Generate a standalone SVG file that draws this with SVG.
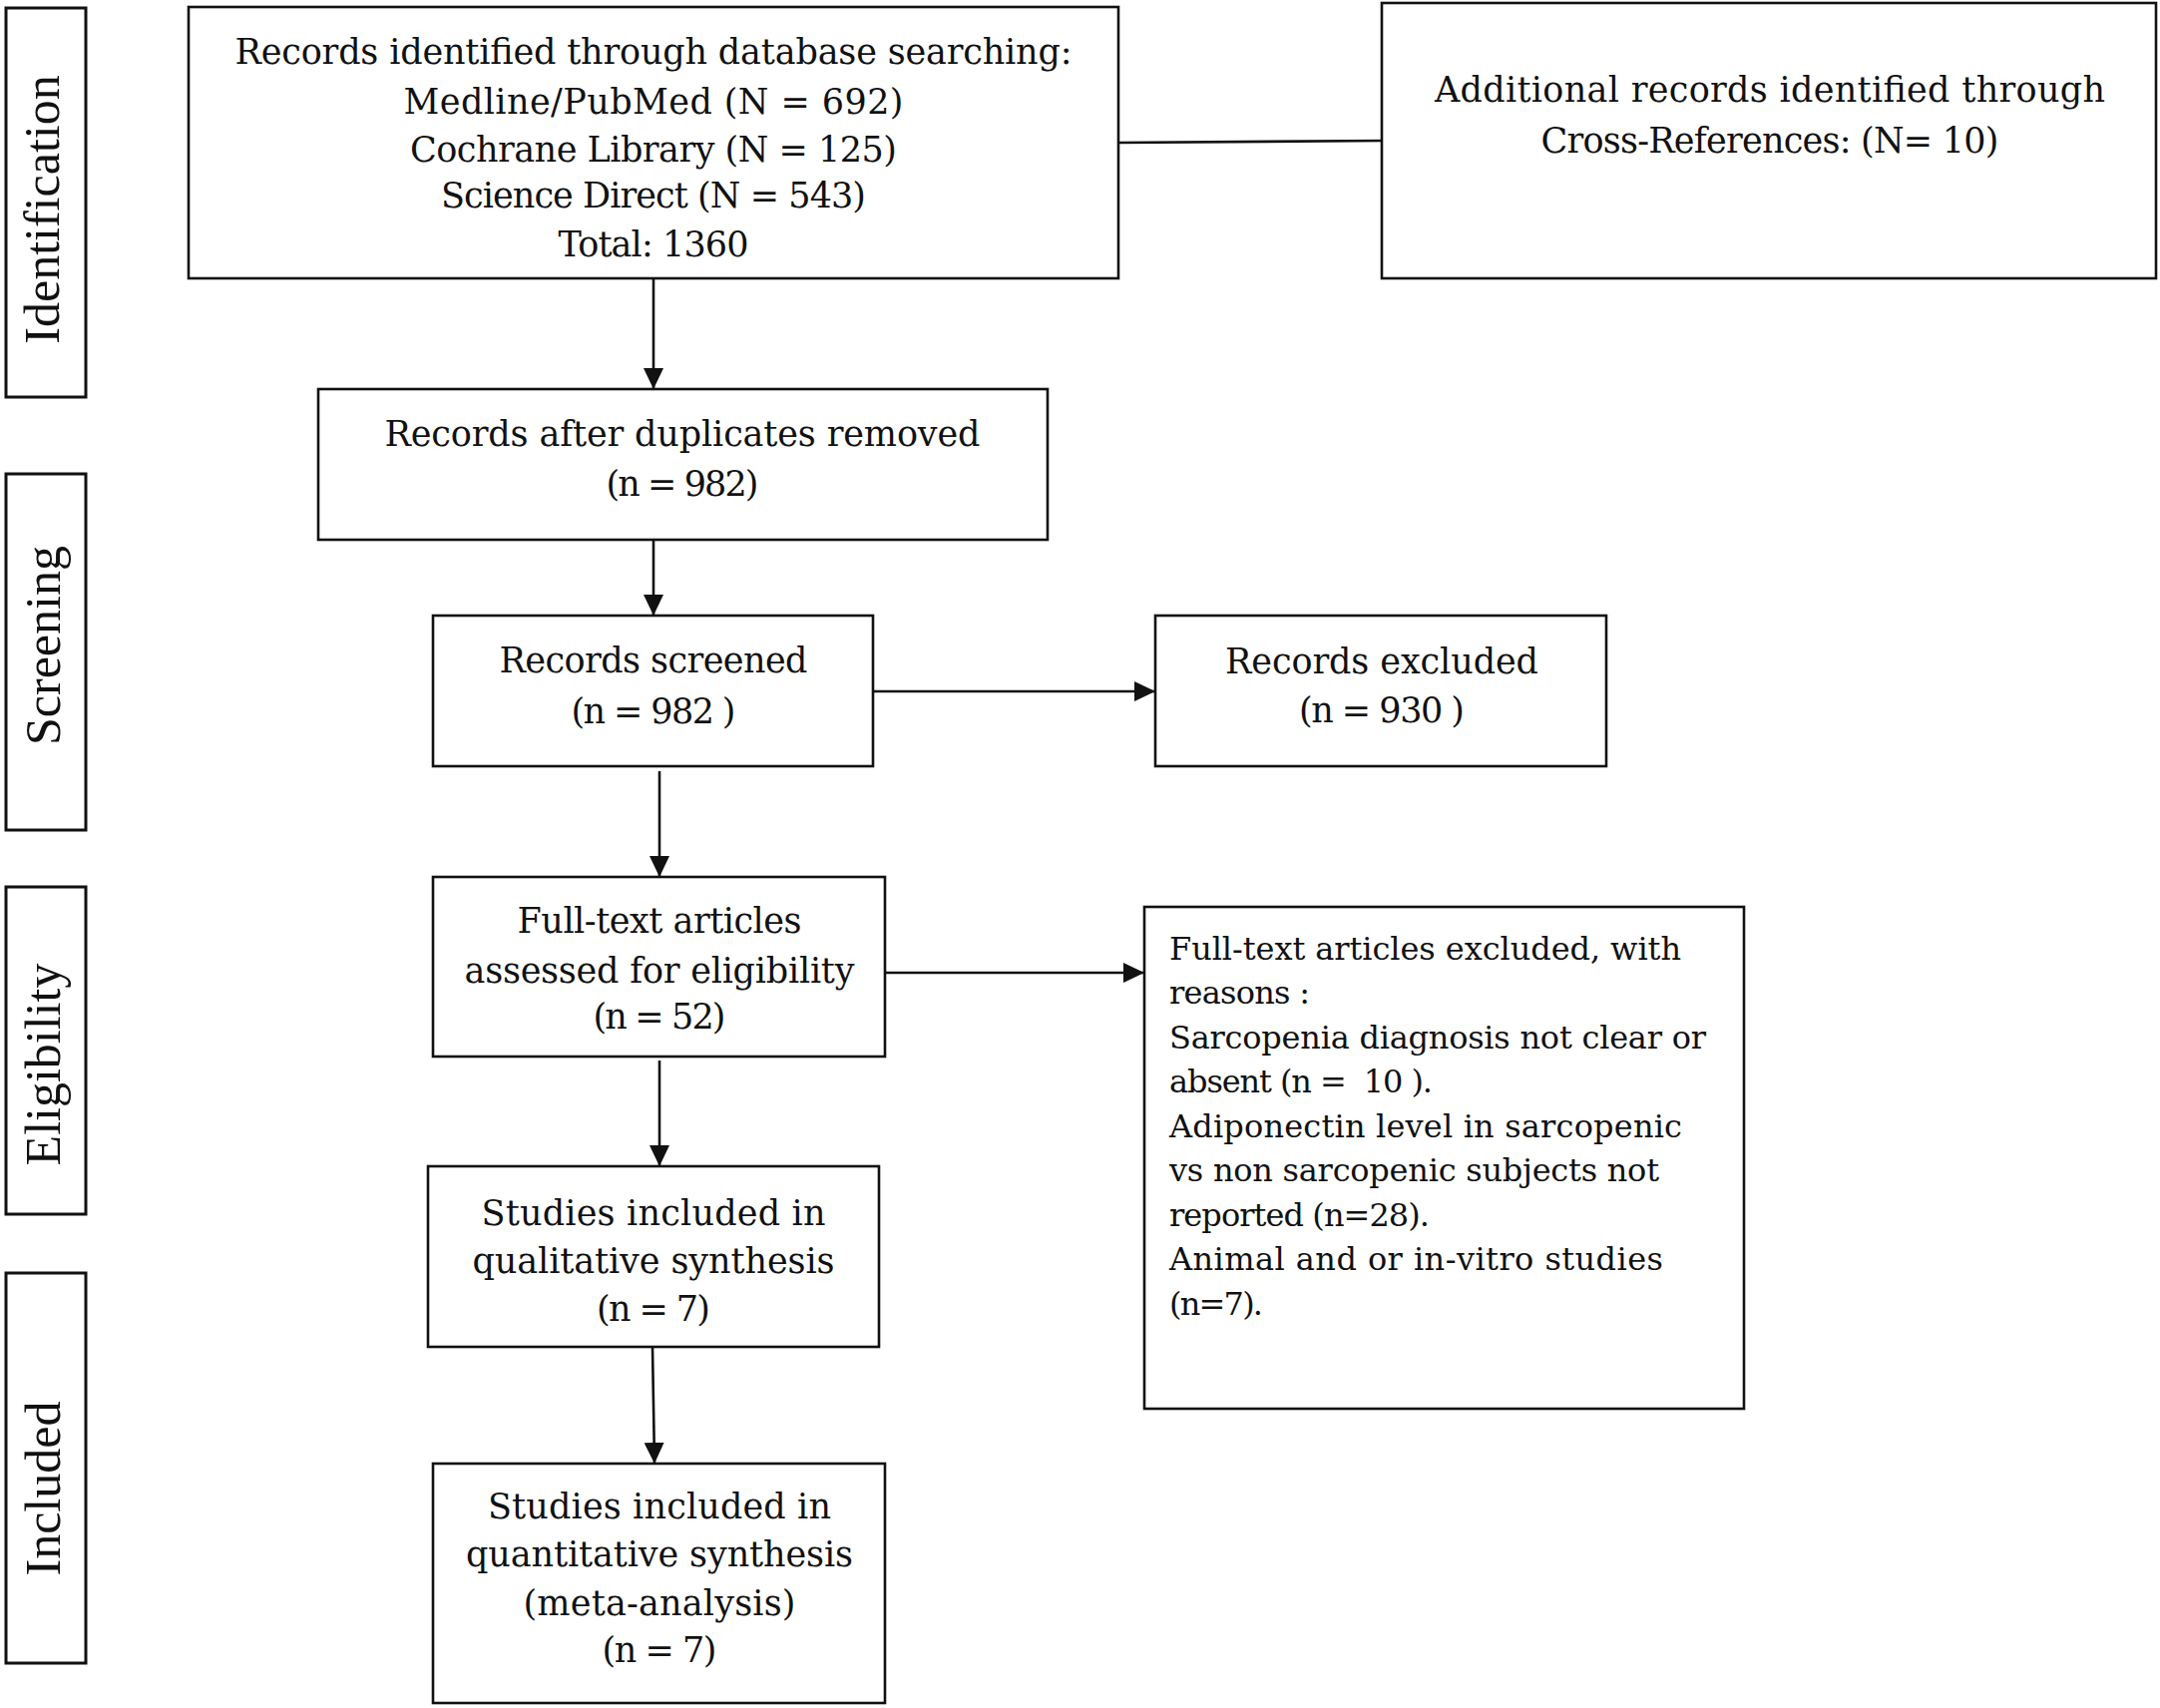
<svg xmlns="http://www.w3.org/2000/svg" width="2165" height="1712" viewBox="0 0 2165 1712">
<style>
.box{fill:#fff;stroke:#111;stroke-width:2.6}
.side{fill:#fff;stroke:#111;stroke-width:3}
.t{font-family:"DejaVu Serif","Liberation Serif",serif;font-size:35px;fill:#111;text-anchor:middle}
.r{font-family:"DejaVu Serif","Liberation Serif",serif;font-size:32px;fill:#111}
.lab{font-family:"Liberation Serif","DejaVu Serif",serif;font-size:50px;fill:#111;text-anchor:middle}
.c{fill:none;stroke:#111;stroke-width:2.6}
.ca{fill:none;stroke:#111;stroke-width:2.6;marker-end:url(#ah)}
</style>
<defs>
<marker id="ah" markerUnits="userSpaceOnUse" markerWidth="21" markerHeight="20" refX="21" refY="10" orient="auto">
<path d="M0,0 L21,10 L0,20 z" fill="#111"/>
</marker>
</defs>
<rect width="2165" height="1712" fill="#fff"/>

<g id="phase-identification">
<rect class="side" x="6" y="8" width="80" height="390"/>
<text class="lab" transform="translate(59,210) rotate(-90)">Identification</text>
</g>
<g id="phase-screening">
<rect class="side" x="6" y="475" width="80" height="357"/>
<text class="lab" transform="translate(60,647) rotate(-90)">Screening</text>
</g>
<g id="phase-eligibility">
<rect class="side" x="6" y="889" width="80" height="328"/>
<text class="lab" transform="translate(60,1067) rotate(-90)">Eligibility</text>
</g>
<g id="phase-included">
<rect class="side" x="6" y="1276" width="80" height="391"/>
<text class="lab" transform="translate(60,1492) rotate(-90)">Included</text>
</g>

<g id="connectors">
<path class="c" d="M1121,143 L1385,141"/>
<path class="ca" d="M655,279 L655,390"/>
<path class="ca" d="M655,541 L655,617"/>
<path class="ca" d="M875,693 L1158,693"/>
<path class="ca" d="M661,773 L661,879"/>
<path class="ca" d="M887,975 L1147,975"/>
<path class="ca" d="M661,1063 L661,1169"/>
<path class="ca" d="M654,1350 L656,1467"/>
</g>

<g id="node-database">
<rect class="box" x="189" y="7" width="932" height="272"/>
<text class="t" x="655" y="64" textLength="839" lengthAdjust="spacing">Records identified through database searching:</text>
<text class="t" x="655" y="114" textLength="501" lengthAdjust="spacing">Medline/PubMed (N = 692)</text>
<text class="t" x="655" y="162" textLength="488" lengthAdjust="spacing">Cochrane Library (N = 125)</text>
<text class="t" x="655" y="208" textLength="426" lengthAdjust="spacing">Science Direct (N = 543)</text>
<text class="t" x="655" y="257" textLength="191" lengthAdjust="spacing">Total: 1360</text>
</g>

<g id="node-additional">
<rect class="box" x="1385" y="3" width="776" height="276"/>
<text class="t" x="1774" y="102" textLength="672" lengthAdjust="spacing">Additional records identified through</text>
<text class="t" x="1774" y="153" textLength="459" lengthAdjust="spacing">Cross-References: (N= 10)</text>
</g>

<g id="node-duplicates">
<rect class="box" x="319" y="390" width="731" height="151"/>
<text class="t" x="684" y="447" textLength="597" lengthAdjust="spacing">Records after duplicates removed</text>
<text class="t" x="684" y="497" textLength="153" lengthAdjust="spacing">(n = 982)</text>
</g>

<g id="node-screened">
<rect class="box" x="434" y="617" width="441" height="151"/>
<text class="t" x="655" y="674" textLength="309" lengthAdjust="spacing">Records screened</text>
<text class="t" x="655" y="725" textLength="165" lengthAdjust="spacing">(n = 982 )</text>
</g>

<g id="node-excluded">
<rect class="box" x="1158" y="617" width="452" height="151"/>
<text class="t" x="1385" y="675" textLength="314" lengthAdjust="spacing">Records excluded</text>
<text class="t" x="1385" y="724" textLength="166" lengthAdjust="spacing">(n = 930 )</text>
</g>

<g id="node-fulltext">
<rect class="box" x="434" y="879" width="453" height="180"/>
<text class="t" x="661" y="935" textLength="285" lengthAdjust="spacing">Full-text articles</text>
<text class="t" x="661" y="985" textLength="391" lengthAdjust="spacing">assessed for eligibility</text>
<text class="t" x="661" y="1031" textLength="133" lengthAdjust="spacing">(n = 52)</text>
</g>

<g id="node-reasons">
<rect class="box" x="1147" y="909" width="601" height="503"/>
<text class="r" x="1172" y="962" textLength="513" lengthAdjust="spacing">Full-text articles excluded, with</text>
<text class="r" x="1172" y="1006" textLength="141" lengthAdjust="spacing">reasons :</text>
<text class="r" x="1172" y="1051" textLength="538" lengthAdjust="spacing">Sarcopenia diagnosis not clear or</text>
<text class="r" x="1172" y="1095" textLength="264" lengthAdjust="spacing" xml:space="preserve">absent (n =  10 ).</text>
<text class="r" x="1172" y="1140" textLength="514" lengthAdjust="spacing">Adiponectin level in sarcopenic</text>
<text class="r" x="1172" y="1184" textLength="491" lengthAdjust="spacing">vs non sarcopenic subjects not</text>
<text class="r" x="1172" y="1229" textLength="261" lengthAdjust="spacing">reported (n=28).</text>
<text class="r" x="1172" y="1273" textLength="495" lengthAdjust="spacing">Animal and or in-vitro studies</text>
<text class="r" x="1172" y="1318" textLength="94" lengthAdjust="spacing">(n=7).</text>
</g>

<g id="node-qualitative">
<rect class="box" x="429" y="1169" width="452" height="181"/>
<text class="t" x="655" y="1228" textLength="345" lengthAdjust="spacing">Studies included in</text>
<text class="t" x="655" y="1276" textLength="363" lengthAdjust="spacing">qualitative synthesis</text>
<text class="t" x="655" y="1324" textLength="114" lengthAdjust="spacing">(n = 7)</text>
</g>

<g id="node-quantitative">
<rect class="box" x="434" y="1467" width="453" height="240"/>
<text class="t" x="661" y="1522" textLength="344" lengthAdjust="spacing">Studies included in</text>
<text class="t" x="661" y="1570" textLength="388" lengthAdjust="spacing">quantitative synthesis</text>
<text class="t" x="661" y="1619" textLength="273" lengthAdjust="spacing">(meta-analysis)</text>
<text class="t" x="661" y="1666" textLength="115" lengthAdjust="spacing">(n = 7)</text>
</g>
</svg>
